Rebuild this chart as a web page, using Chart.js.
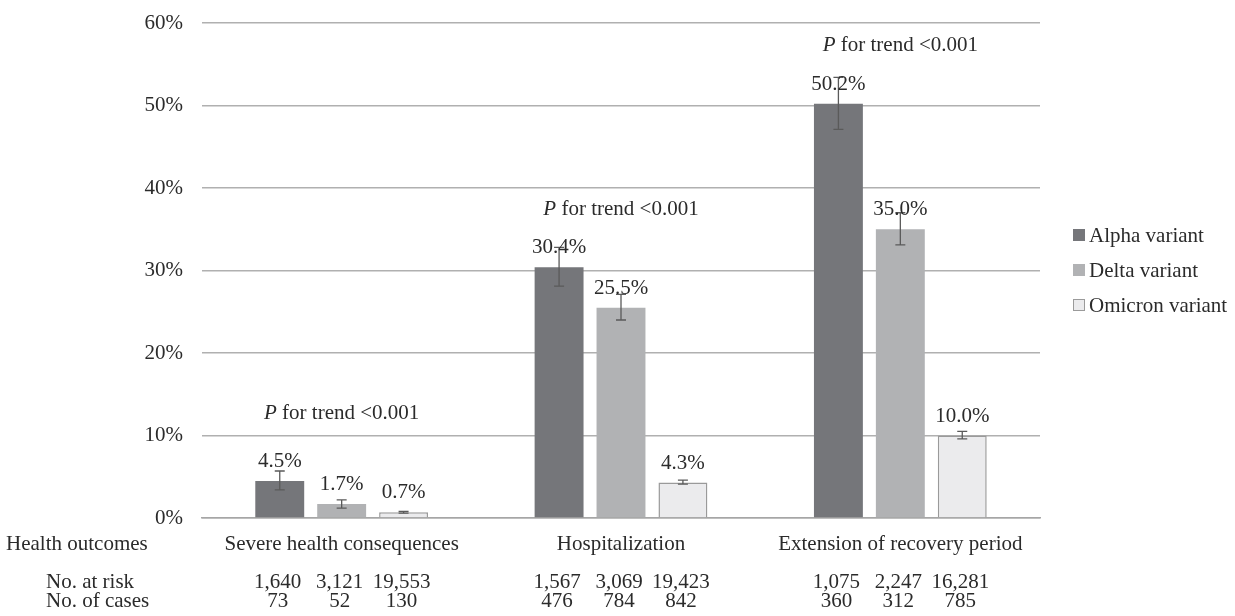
<!DOCTYPE html>
<html>
<head>
<meta charset="utf-8">
<script src="https://cdn.jsdelivr.net/npm/chart.js@4/dist/chart.umd.min.js"></script>
<style>
  html, body { margin: 0; padding: 0; background: #fff; }
  #wrap { width: 1235px; height: 616px; position: relative; }
</style>
</head>
<body>
<div id="wrap"><canvas id="grafico" width="1235" height="616"></canvas></div>
<script>
const categorias = ['Severe health consequences', 'Hospitalization', 'Extension of recovery period'];
const variantes = ['Alpha variant', 'Delta variant', 'Omicron variant'];

const alpha = [4.5, 30.4, 50.2];
const delta = [1.7, 25.5, 35.0];
const omicron = [0.7, 4.3, 10.0];

// intervalos
const alphaBaixo = [3.4, 28.1, 47.1];
const alphaAlto = [5.7, 32.8, 53.4];
const deltaBaixo = [1.2, 24.0, 33.1];
const deltaAlto = [2.2, 27.1, 37.0];
const omicronBaixo = [0.6, 4.1, 9.6];
const omicronAlto = [0.8, 4.6, 10.5];

const emRisco = [
    ['1,640', '3,121', '19,553'],
    ['1,567', '3,069', '19,423'],
    ['1,075', '2,247', '16,281']
];
const casos = [
    ['73', '52', '130'],
    ['476', '784', '842'],
    ['360', '312', '785']
];
const tendencia = ['P for trend <0.001', 'P for trend <0.001', 'P for trend <0.001'];
const yTicks = [0, 10, 20, 30, 40, 50, 60];

const fonte = "'Liberation Serif', 'Times New Roman', serif";
const corTexto = '#2b2b2b';
const cores = ['#75767a', '#b1b2b4', '#ebebed'];

const baixos = [alphaBaixo, deltaBaixo, omicronBaixo];
const altos = [alphaAlto, deltaAlto, omicronAlto];

const extras = {
    id: 'extras',
    afterDatasetsDraw(chart) {
        const ctx = chart.ctx;
        const x = chart.scales.x;
        const y = chart.scales.y;

        // barras de erro
        ctx.save();
        ctx.strokeStyle = '#5a5a5a';
        ctx.lineWidth = 1.3;
        chart.data.datasets.forEach((ds, i) => {
            const meta = chart.getDatasetMeta(i);
            meta.data.forEach((bar, j) => {
                const y1 = y.getPixelForValue(baixos[i][j]);
                const y2 = y.getPixelForValue(altos[i][j]);
                ctx.beginPath();
                ctx.moveTo(bar.x, y1); ctx.lineTo(bar.x, y2);
                ctx.moveTo(bar.x - 5, y1); ctx.lineTo(bar.x + 5, y1);
                ctx.moveTo(bar.x - 5, y2); ctx.lineTo(bar.x + 5, y2);
                ctx.stroke();
            });
        });
        ctx.restore();

        // rótulos dos valores
        ctx.save();
        ctx.font = `21px ${fonte}`;
        ctx.fillStyle = corTexto;
        ctx.textAlign = 'center';
        ctx.textBaseline = 'alphabetic';
        chart.data.datasets.forEach((ds, i) => {
            const meta = chart.getDatasetMeta(i);
            meta.data.forEach((bar, j) => {
                ctx.fillText(ds.data[j].toFixed(1) + '%', bar.x, bar.y - 14);
            });
        });

        // P for trend
        const posTendencia = [12.0, 36.7, 56.6];
        categorias.forEach((c, j) => {
            const cx = x.getPixelForValue(j);
            const ty = y.getPixelForValue(posTendencia[j]);
            const resto = tendencia[j].slice(1);
            ctx.font = `italic 21px ${fonte}`;
            const wP = ctx.measureText('P').width;
            ctx.font = `21px ${fonte}`;
            const wR = ctx.measureText(resto).width;
            const x0 = cx - (wP + wR) / 2;
            ctx.textAlign = 'left';
            ctx.font = `italic 21px ${fonte}`;
            ctx.fillText('P', x0, ty);
            ctx.font = `21px ${fonte}`;
            ctx.fillText(resto, x0 + wP, ty);
        });

        // tabela embaixo
        ctx.font = `21px ${fonte}`;
        ctx.textAlign = 'left';
        ctx.fillText('Health outcomes', 6, 550);
        ctx.fillText('No. at risk', 46, 588);
        ctx.fillText('No. of cases', 46, 607);
        ctx.textAlign = 'center';
        categorias.forEach((c, j) => {
            ctx.fillText(c, x.getPixelForValue(j), 550);
        });
        chart.data.datasets.forEach((ds, i) => {
            const meta = chart.getDatasetMeta(i);
            meta.data.forEach((bar, j) => {
                ctx.fillText(emRisco[j][i], bar.x - 2, 588);
                ctx.fillText(casos[j][i], bar.x - 2, 607);
            });
        });

        // legenda
        ctx.textAlign = 'left';
        ctx.textBaseline = 'middle';
        variantes.forEach((v, i) => {
            const ly = 235 + i * 35;
            ctx.fillStyle = cores[i];
            ctx.fillRect(1073, ly - 6, 12, 12);
            if (i === 2) {
                ctx.strokeStyle = '#9a9a9a';
                ctx.lineWidth = 1;
                ctx.strokeRect(1073.5, ly - 5.5, 11, 11);
            }
            ctx.fillStyle = corTexto;
            ctx.fillText(v, 1089, ly + 1);
        });
        ctx.restore();
    }
};

new Chart(document.getElementById('grafico'), {
    type: 'bar',
    data: {
        labels: categorias,
        datasets: [
            { label: variantes[0], data: alpha, backgroundColor: cores[0], borderWidth: 0 },
            { label: variantes[1], data: delta, backgroundColor: cores[1], borderWidth: 0 },
            { label: variantes[2], data: omicron, backgroundColor: cores[2], borderColor: '#9a9a9a', borderWidth: 1.5, borderSkipped: 'bottom' }
        ]
    },
    options: {
        responsive: false,
        animation: false,
        devicePixelRatio: 1,
        layout: { padding: { left: 0, right: 195, top: 23, bottom: 90 } },
        datasets: { bar: { categoryPercentage: 0.665, barPercentage: 0.79 } },
        plugins: {
            legend: { display: false },
            tooltip: { enabled: false }
        },
        scales: {
            x: {
                ticks: { display: false },
                grid: { display: false },
                border: { display: true, color: '#a6a6a6', width: 1.5 }
            },
            y: {
                min: 0,
                max: 60,
                afterBuildTicks: s => { s.ticks = yTicks.map(v => ({ value: v })); },
                afterFit: s => { s.width = 202; },
                ticks: {
                    padding: 19,
                    color: corTexto,
                    font: { family: fonte, size: 21, lineHeight: 0.3 },
                    callback: v => v + '%'
                },
                grid: { color: '#b0b0b0', lineWidth: 1.5, drawTicks: false },
                border: { display: false }
            }
        }
    },
    plugins: [extras]
});
</script>
</body>
</html>
